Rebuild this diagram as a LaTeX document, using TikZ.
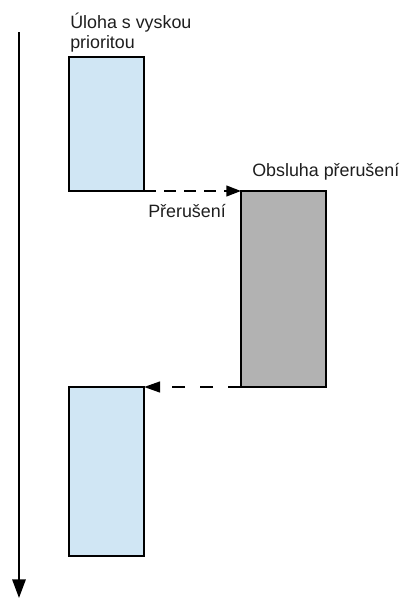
\documentclass[tikz,border=0pt]{standalone}
\usepackage{fontspec}
\setmainfont{Liberation Sans}
\usetikzlibrary{arrows.meta}
\definecolor{taskblue}{RGB}{208,230,244}
\definecolor{isrgray}{RGB}{178,178,178}
\definecolor{txt}{RGB}{30,30,30}
\begin{document}
\begin{tikzpicture}[x=0.75pt,y=-0.75pt,
  taskbox/.style={draw=black,line width=2.2pt,rectangle,inner sep=0pt,outer sep=0pt,minimum width=56.25pt},
  lbl/.style={inner sep=0pt,text=txt,font=\fontsize{13.4pt}{15pt}\selectfont,align=left},
  call/.style={line width=1.6pt,dash pattern=on 9pt off 6pt,-{Triangle[length=11pt,width=8pt]}},
  back/.style={line width=1.6pt,dash pattern=on 10pt off 11pt,-{Triangle[length=12pt,width=8pt]}},
  timeax/.style={line width=1.6pt,-{Triangle[length=14pt,width=10pt]}}]
\useasboundingbox (0,0) rectangle (404,601);
% time axis
\coordinate (axtop) at (19,32);
\coordinate (axbot) at (19,598);
\draw[timeax] (axtop) -- (axbot);
% boxes
\node[taskbox,fill=taskblue,minimum height=100.5pt] (task1) at (106.5,124) {};
\node[taskbox,fill=isrgray,minimum width=63.75pt,minimum height=147pt] (isr) at (283.5,289) {};
\node[taskbox,fill=taskblue,minimum height=126.75pt] (task2) at (106.5,471.5) {};
% labels
\node[lbl,anchor=base west] (l1) at (70,48) {Úloha s vyskou\\prioritou};
\node[lbl,anchor=base west] (l2) at (252,176) {Obsluha přerušení};
\node[lbl,anchor=base west] (l3) at (148,217) {Přerušení};
% connectors
\draw[call] (task1.south east) -- (isr.north west);
\draw[back] (isr.south west) -- (task2.north east);
\end{tikzpicture}
\end{document}
